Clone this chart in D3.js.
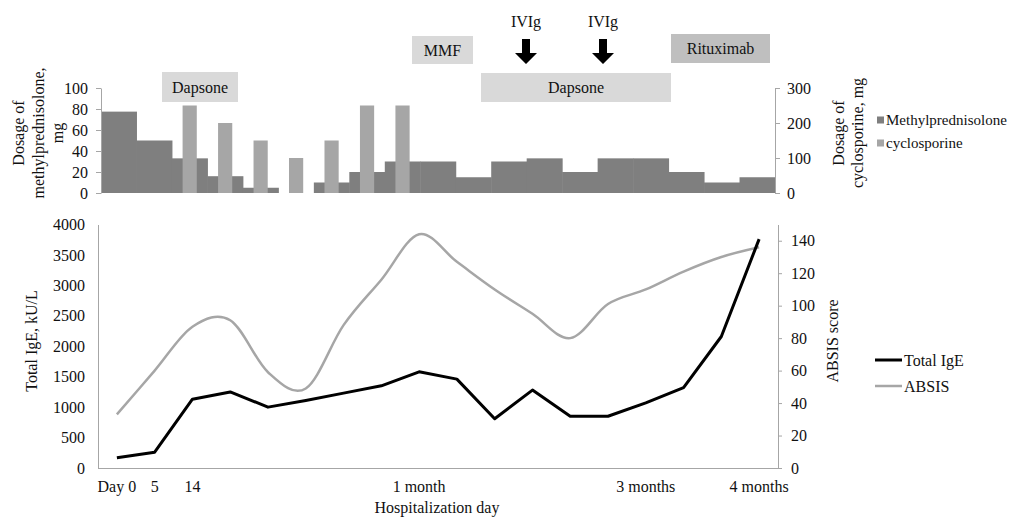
<!DOCTYPE html>
<html>
<head>
<meta charset="utf-8">
<script src="https://cdn.jsdelivr.net/npm/d3@7"></script>
<style>
  body { margin: 0; background: #fff; }
  svg text { font-family: "Liberation Serif", "Times New Roman", serif !important; fill: #111; }
</style>
</head>
<body>
<svg></svg>
<script>
// ---- dosage chart (top), 19 dose periods ----
const doseSlots = d3.range(19);
const methylDose = [77.5, 50, 33, 16, 5, 0, 10, 20, 30, 30, 15, 30, 33, 20, 33, 33, 20, 10, 15];
const cycloDose = [0, 0, 250, 200, 150, 100, 150, 250, 250, 0, 0, 0, 0, 0, 0, 0, 0, 0, 0];
const methylTicks = [0, 20, 40, 60, 80, 100];
const cycloTicks = [0, 100, 200, 300];
const doseSeries = ['Methylprednisolone', 'cyclosporine'];

// ---- IgE / ABSIS chart (bottom), 18 visits ----
const visits = d3.range(18);
const visitLabels = ['Day 0', '5', '14', '', '', '', '', '', '1 month', '', '', '', '', '', '3 months', '', '', '4 months'];
const totalIgE = [170, 260, 1130, 1250, 1000, 1110, 1230, 1350, 1580, 1460, 810, 1280, 850, 850, 1070, 1320, 2160, 3760];
const absis = [33, 60, 87, 91, 59, 49, 88, 116, 144, 127, 110, 95, 80, 101, 110, 121, 130, 136];
const igeTicks = d3.range(0, 4001, 500);
const absisTicks = d3.range(0, 141, 20);
const lineSeries = ['Total IgE', 'ABSIS'];

const colors = {methyl: '#7f7f7f', cyclo: '#a6a6a6', ige: '#000', absis: '#a6a6a6', axis: '#a6a6a6'};
const serif = '"Liberation Serif", "Times New Roman", serif';

const svg = d3.select('svg').attr('width', 1016).attr('height', 517);

// ======================= TOP CHART =======================
const topBox = {l: 101, r: 775, t: 88, b: 193};
const xDose = d3.scaleBand().domain(doseSlots).range([topBox.l, topBox.r]).padding(0);
const yMethyl = d3.scaleLinear().domain([0, 100]).range([topBox.b, topBox.t]);
const yCyclo = d3.scaleLinear().domain([0, 300]).range([topBox.b, topBox.t]);

const topG = svg.append('g').classed('dosage', true);

// methylprednisolone fills the whole slot
topG.append('g').selectAll('rect')
    .data(methylDose)
    .join('rect')
    .attr('x', (d, i) => xDose(i))
    .attr('width', xDose.bandwidth() + 0.5)
    .attr('y', d => yMethyl(d))
    .attr('height', d => topBox.b - yMethyl(d))
    .attr('fill', colors.methyl);

// cyclosporine drawn on top, narrower, on the right axis
topG.append('g').selectAll('rect')
    .data(cycloDose)
    .join('rect')
    .attr('x', (d, i) => xDose(i) + xDose.bandwidth() * 0.3)
    .attr('width', xDose.bandwidth() * 0.4)
    .attr('y', d => yCyclo(d))
    .attr('height', d => topBox.b - yCyclo(d))
    .attr('fill', colors.cyclo);

function styleAxis(g) {
    g.attr('font-family', serif);
    g.selectAll('path, line').attr('stroke', colors.axis);
    g.selectAll('text').style('font-size', '16px').style('font-family', serif).attr('fill', '#111');
}

topG.append('g')
    .attr('transform', `translate(${topBox.l},0)`)
    .call(d3.axisLeft(yMethyl).tickValues(methylTicks).tickSize(5).tickSizeOuter(0).tickPadding(8))
    .call(styleAxis);

topG.append('g')
    .attr('transform', `translate(${topBox.r},0)`)
    .call(d3.axisRight(yCyclo).tickValues(cycloTicks).tickSize(5).tickSizeOuter(0).tickPadding(7))
    .call(styleAxis);

// axis titles
function rotTitle(g, lines, xs, cy) {
    lines.forEach((t, i) => {
        g.append('text')
            .attr('transform', `translate(${xs[i]},${cy}) rotate(-90)`)
            .attr('text-anchor', 'middle')
            .attr('dy', '0.35em')
            .style('font-size', '16px')
            .style('font-family', serif)
            .text(t);
    });
}
rotTitle(topG, ['Dosage of', 'methylprednisolone,', 'mg'], [18, 38, 57], 133);
rotTitle(topG, ['Dosage of', 'cyclosporine, mg'], [838, 857], 133);

// legend
const legTop = topG.append('g').attr('transform', 'translate(877,120)');
doseSeries.forEach((s, i) => {
    legTop.append('rect')
        .attr('x', 0).attr('y', i * 23 - 3.5)
        .attr('width', 7).attr('height', 7)
        .attr('fill', i === 0 ? colors.methyl : colors.cyclo);
    legTop.append('text')
        .attr('x', 9).attr('y', i * 23)
        .attr('dy', '0.35em')
        .style('font-size', '15px')
        .style('font-family', serif)
        .text(s);
});

// treatment annotations
const notes = svg.append('g').classed('notes', true);
const boxes = [
    {label: 'Dapsone', x0: 162, x1: 238, y0: 72, y1: 102, fill: '#d9d9d9'},
    {label: 'MMF', x0: 412, x1: 473, y0: 36, y1: 64, fill: '#d9d9d9'},
    {label: 'Dapsone', x0: 481, x1: 671, y0: 73, y1: 102, fill: '#d9d9d9'},
    {label: 'Rituximab', x0: 671, x1: 770, y0: 34, y1: 63, fill: '#bfbfbf'}
];
notes.selectAll('rect')
    .data(boxes)
    .join('rect')
    .attr('x', d => d.x0).attr('y', d => d.y0)
    .attr('width', d => d.x1 - d.x0).attr('height', d => d.y1 - d.y0)
    .attr('fill', d => d.fill);
notes.selectAll('text.box')
    .data(boxes)
    .join('text')
    .classed('box', true)
    .attr('x', d => (d.x0 + d.x1) / 2)
    .attr('y', d => (d.y0 + d.y1) / 2)
    .attr('dy', '0.35em')
    .attr('text-anchor', 'middle')
    .style('font-size', '16px')
    .style('font-family', serif)
    .text(d => d.label);

[526, 603].forEach(cx => {
    notes.append('text')
        .attr('x', cx).attr('y', 21).attr('dy', '0.35em')
        .attr('text-anchor', 'middle')
        .style('font-size', '16px')
        .style('font-family', serif)
        .text('IVIg');
    notes.append('path')
        .attr('d', `M${cx - 4},39 L${cx + 4},39 L${cx + 4},53 L${cx + 11},53 L${cx},64 L${cx - 11},53 L${cx - 4},53 Z`)
        .attr('fill', '#000');
});

// ======================= BOTTOM CHART =======================
const botBox = {l: 98, r: 778, t: 224.5, b: 468};
const xVisit = d3.scaleBand().domain(visits).range([botBox.l, botBox.r]).padding(0);
const yIgE = d3.scaleLinear().domain([0, 4000]).range([botBox.b, botBox.t]);
const yAbsis = d3.scaleLinear().domain([0, 150]).range([botBox.b, botBox.t]);
const px = i => xVisit(i) + xVisit.bandwidth() / 2;

const botG = svg.append('g').classed('lab', true);

botG.append('g')
    .attr('transform', `translate(${botBox.l},0)`)
    .call(d3.axisLeft(yIgE).tickValues(igeTicks).tickFormat(d3.format('d')).tickSize(0).tickSizeOuter(0).tickPadding(13))
    .call(styleAxis);

botG.append('g')
    .attr('transform', `translate(${botBox.r},0)`)
    .call(d3.axisRight(yAbsis).tickValues(absisTicks).tickSize(4).tickSizeOuter(0).tickPadding(9))
    .call(styleAxis);

const xAx = botG.append('g')
    .attr('transform', `translate(0,${botBox.b})`)
    .call(d3.axisBottom(xVisit).tickFormat(i => visitLabels[i]).tickSize(0).tickSizeOuter(0).tickPadding(13))
    .call(styleAxis);
xAx.select('.domain').attr('d', `M${botBox.l},0.5H${botBox.r}`);

botG.append('text')
    .attr('x', 437).attr('y', 513)
    .attr('text-anchor', 'middle')
    .style('font-size', '16px')
    .style('font-family', serif)
    .text('Hospitalization day');

rotTitle(botG, ['Total IgE, kU/L'], [31], 341);
rotTitle(botG, ['ABSIS score'], [832], 341);

// lines
botG.append('path')
    .datum(absis)
    .attr('fill', 'none')
    .attr('stroke', colors.absis)
    .attr('stroke-width', 2.5)
    .attr('d', d3.line().x((d, i) => px(i)).y(d => yAbsis(d)).curve(d3.curveCardinal.tension(0)));

botG.append('path')
    .datum(totalIgE)
    .attr('fill', 'none')
    .attr('stroke', colors.ige)
    .attr('stroke-width', 3)
    .attr('stroke-linejoin', 'round')
    .attr('d', d3.line().x((d, i) => px(i)).y(d => yIgE(d)));

// legend
const legBot = botG.append('g').attr('transform', 'translate(875,360)');
lineSeries.forEach((s, i) => {
    legBot.append('line')
        .attr('x1', 0).attr('x2', 27)
        .attr('y1', i * 26).attr('y2', i * 26)
        .attr('stroke', i === 0 ? colors.ige : colors.absis)
        .attr('stroke-width', i === 0 ? 3 : 2.5);
    legBot.append('text')
        .attr('x', 29).attr('y', i * 26)
        .attr('dy', '0.35em')
        .style('font-size', '16px')
        .style('font-family', serif)
        .text(s);
});
</script>
</body>
</html>
